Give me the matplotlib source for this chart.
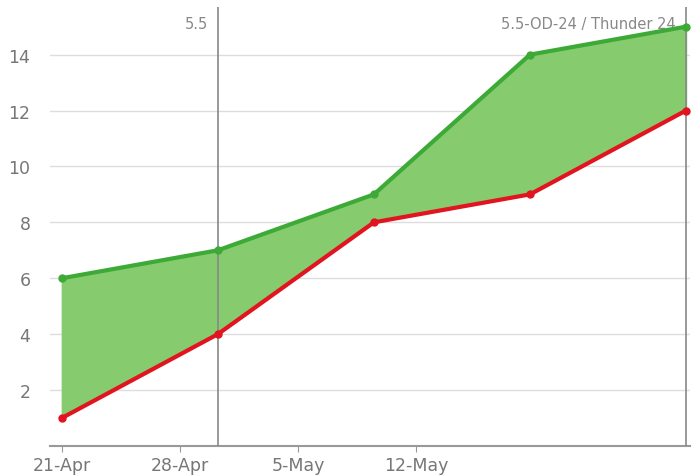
import matplotlib
matplotlib.use("Agg")
import matplotlib.pyplot as plt
import matplotlib.dates as mdates
import pandas as pd

# readings per check date
dates = pd.to_datetime(["2013-04-21 00:00", "2013-04-30 06:00", "2013-05-09 12:00",
                        "2013-05-18 18:00", "2013-05-28 00:00"])
upper = [6, 7, 9, 14, 15]
lower = [1, 4, 8, 9, 12]

# release markers
marker_dates = pd.to_datetime(["2013-04-30 06:00", "2013-05-28 00:00"])
marker_labels = ["5.5", "5.5-OD-24 / Thunder 24"]

tick_dates = pd.to_datetime(["2013-04-21", "2013-04-28", "2013-05-05", "2013-05-12"])
y_ticks = [2, 4, 6, 8, 10, 12, 14]

fig = plt.figure(figsize=(6.93, 4.77), dpi=100)
ax = fig.add_axes([0.072, 0.063, 0.924, 0.92])

ax.fill_between(dates, lower, upper, color="#86cb6e", zorder=2)
ax.plot(dates, upper, color="#3daa37", lw=3, marker="o", ms=5, zorder=4)
ax.plot(dates, lower, color="#e2141f", lw=3, marker="o", ms=5, zorder=4)

for d, lab in zip(marker_dates, marker_labels):
    ax.axvline(d, color="#888888", lw=1.2, zorder=3)
    ax.text(d - pd.Timedelta(hours=14), 15.1, lab, ha="right", va="center",
            fontsize=10.5, color="#888888")

ax.set_ylim(0, 15.7)
ax.set_xlim(pd.Timestamp("2013-04-21") - pd.Timedelta(hours=17),
            pd.Timestamp("2013-05-28") + pd.Timedelta(hours=6))
ax.set_yticks(y_ticks)
ax.set_xticks(tick_dates)
ax.xaxis.set_major_formatter(mdates.DateFormatter("%-d-%b"))

ax.grid(axis="y", color="#dddddd", lw=1)
ax.set_axisbelow(True)
for s in ["left", "right", "top"]:
    ax.spines[s].set_visible(False)
ax.spines["bottom"].set_color("#999999")
ax.spines["bottom"].set_linewidth(1.5)
ax.tick_params(axis="y", length=0, labelsize=12.5, labelcolor="#777777", pad=14)
ax.tick_params(axis="x", length=4, color="#999999", labelsize=12.5,
               labelcolor="#777777", pad=3)

fig.savefig("out.png", dpi=100)
